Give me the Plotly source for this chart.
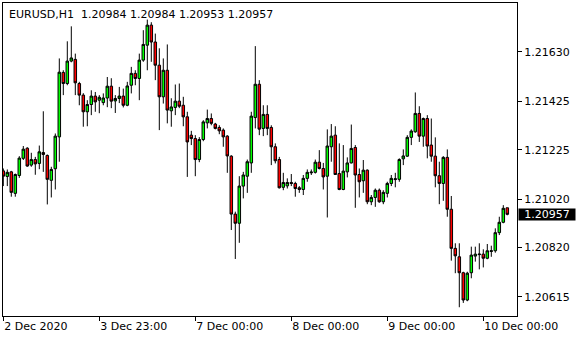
import plotly.graph_objects as go

opens = [1.21137,1.21114,1.21133,1.21044,1.21118,1.21189,1.21231,1.21161,1.21184,1.21168,
         1.21213,1.21201,1.21098,1.21146,1.21278,1.21545,1.21499,1.21592,1.21599,1.21499,
         1.21451,1.21382,1.21412,1.21447,1.21430,1.21420,1.21439,1.21488,1.21427,1.21437,
         1.21447,1.21409,1.21492,1.21541,1.21520,1.21596,1.21658,1.21741,1.21671,1.21575,
         1.21444,1.21554,1.21386,1.21400,1.21426,1.21409,1.21361,1.21285,1.21271,1.21184,
         1.21267,1.21336,1.21354,1.21331,1.21317,1.21306,1.21281,1.21198,1.20958,1.20920,
         1.21074,1.21115,1.21170,1.21358,1.21496,1.21313,1.21371,1.21317,1.21237,1.21184,
         1.21069,1.21075,1.21089,1.21085,1.21067,1.21060,1.21106,1.21129,1.21131,1.21173,
         1.21147,1.21115,1.21237,1.21285,1.21126,1.21060,1.21133,1.21170,1.21234,1.21122,
         1.21096,1.21140,1.21009,1.21027,1.21057,1.21009,1.21044,1.21085,1.21101,1.21102,
         1.21187,1.21198,1.21276,1.21299,1.21375,1.21281,1.21354,1.21244,1.21198,1.21117,
         1.21085,1.21193,1.20978,1.20816,1.20781,1.20715,1.20602,1.20715,1.20784,1.20790,
         1.20792,1.20775,1.20803,1.20806,1.20881,1.20924,1.20984]
highs = [1.21147,1.21143,1.21137,1.21126,1.21198,1.21240,1.21235,1.21212,1.21195,1.21242,
         1.21384,1.21205,1.21154,1.21292,1.21603,1.21554,1.21674,1.21736,1.21623,1.21506,
         1.21459,1.21430,1.21471,1.21464,1.21451,1.21458,1.21526,1.21521,1.21451,1.21485,
         1.21478,1.21506,1.21568,1.21554,1.21623,1.21720,1.21764,1.21753,1.21706,1.21645,
         1.21603,1.21661,1.21438,1.21495,1.21499,1.21444,1.21382,1.21303,1.21285,1.21277,
         1.21347,1.21391,1.21375,1.21336,1.21326,1.21313,1.21285,1.21202,1.20968,1.21115,
         1.21133,1.21184,1.21382,1.21654,1.21513,1.21409,1.21409,1.21326,1.21251,1.21195,
         1.21129,1.21106,1.21124,1.21092,1.21074,1.21120,1.21143,1.21143,1.21184,1.21223,
         1.21170,1.21309,1.21331,1.21322,1.21251,1.21244,1.21193,1.21329,1.21244,1.21147,
         1.21182,1.21143,1.21037,1.21064,1.21064,1.21057,1.21092,1.21120,1.21129,1.21189,
         1.21226,1.21285,1.21309,1.21462,1.21405,1.21358,1.21368,1.21354,1.21276,1.21175,
         1.21198,1.21226,1.21033,1.20837,1.20837,1.20719,1.20719,1.20823,1.20823,1.20837,
         1.20812,1.20834,1.20827,1.20899,1.20947,1.20995,1.20984]
lows = [1.21074,1.21074,1.21030,1.21030,1.21108,1.21182,1.21154,1.21154,1.21121,1.21144,
        1.21133,1.20998,1.21027,1.21060,1.21175,1.21451,1.21492,1.21587,1.21451,1.21409,
        1.21320,1.21322,1.21368,1.21382,1.21376,1.21409,1.21401,1.21397,1.21377,1.21418,
        1.21400,1.21405,1.21458,1.21492,1.21430,1.21589,1.21554,1.21589,1.21513,1.21306,
        1.21416,1.21334,1.21320,1.21368,1.21397,1.21322,1.21112,1.21244,1.21115,1.21173,
        1.21260,1.21313,1.21326,1.21309,1.21289,1.21237,1.21129,1.20892,1.20772,1.20839,
        1.21023,1.21046,1.21129,1.21313,1.21285,1.21281,1.21285,1.21161,1.21168,1.21064,
        1.21057,1.21064,1.21074,1.21030,1.21046,1.21037,1.21092,1.21120,1.21126,1.21143,
        1.21060,1.20944,1.21175,1.21120,1.21057,1.21057,1.21110,1.21168,1.20984,1.21027,
        1.21046,1.20999,1.20995,1.20988,1.21005,1.20999,1.21027,1.21074,1.21069,1.21092,
        1.21161,1.21195,1.21244,1.21295,1.21257,1.21237,1.21189,1.21175,1.21069,1.20999,
        1.21013,1.20947,1.20765,1.20713,1.20572,1.20590,1.20597,1.20692,1.20761,1.20729,
        1.20737,1.20771,1.20781,1.20798,1.20871,1.20920,1.20953]
closes = [1.21115,1.21131,1.21048,1.21122,1.21190,1.21227,1.21157,1.21184,1.21166,1.21216,
          1.21205,1.21102,1.21143,1.21281,1.21546,1.21499,1.21592,1.21605,1.21502,1.21451,
          1.21382,1.21412,1.21447,1.21423,1.21442,1.21439,1.21488,1.21426,1.21437,1.21447,
          1.21409,1.21489,1.21541,1.21520,1.21596,1.21661,1.21741,1.21671,1.21575,1.21444,
          1.21554,1.21389,1.21402,1.21426,1.21405,1.21361,1.21257,1.21271,1.21184,1.21267,
          1.21340,1.21354,1.21334,1.21313,1.21303,1.21278,1.21199,1.20958,1.20920,1.21074,
          1.21120,1.21175,1.21364,1.21496,1.21310,1.21371,1.21313,1.21237,1.21179,1.21067,
          1.21089,1.21089,1.21085,1.21064,1.21060,1.21106,1.21131,1.21132,1.21173,1.21147,
          1.21112,1.21240,1.21281,1.21122,1.21060,1.21136,1.21170,1.21230,1.21120,1.21092,
          1.21140,1.21009,1.21027,1.21057,1.21009,1.21048,1.21085,1.21106,1.21104,1.21184,
          1.21199,1.21276,1.21302,1.21375,1.21281,1.21354,1.21240,1.21198,1.21117,1.21085,
          1.21193,1.20978,1.20816,1.20785,1.20715,1.20602,1.20713,1.20788,1.20792,1.20792,
          1.20775,1.20806,1.20806,1.20881,1.20924,1.20982,1.20957]

tick_index = [0, 24, 48, 72, 96, 120]
tick_labels = ["2 Dec 2020", "3 Dec 23:00", "7 Dec 00:00", "8 Dec 00:00", "9 Dec 00:00", "10 Dec 00:00"]
price_ticks = [1.21630, 1.21425, 1.21225, 1.21020, 1.20820, 1.20615]
price_labels = ["1.21630", "1.21425", "1.21225", "1.21020", "1.20820", "1.20615"]
symbol = "EURUSD,H1"
last_price = 1.20957

bars = list(range(len(opens)))
FONT = "DejaVu Sans"

fig = go.Figure(go.Candlestick(
    x=bars, open=opens, high=highs, low=lows, close=closes,
    increasing=dict(line=dict(color="black", width=1), fillcolor="#00FF00"),
    decreasing=dict(line=dict(color="black", width=1), fillcolor="#FF0000"),
    whiskerwidth=0, hoverinfo="skip",
))

title_txt = "%s  %.5f %.5f %.5f %.5f" % (symbol, opens[-1], highs[-1], lows[-1], closes[-1])

fig.update_layout(
    width=580, height=340,
    margin=dict(l=3, r=63, t=3, b=24),
    paper_bgcolor="white", plot_bgcolor="white",
    showlegend=False, boxgap=0.1,
    font=dict(family=FONT, size=11, color="black"),
    xaxis=dict(range=[-0.075, 128.425], tickvals=tick_index, ticktext=tick_labels,
               ticks="outside", ticklen=4, tickcolor="black", ticklabelposition="outside right",
               showline=True, mirror=True, linecolor="black", linewidth=1,
               showgrid=False, zeroline=False, rangeslider=dict(visible=False),
               tickfont=dict(family=FONT, size=11, color="black")),
    yaxis=dict(range=[1.205357, 1.218327], side="right", tickvals=price_ticks, ticktext=price_labels,
               ticks="outside", ticklen=4, tickcolor="black",
               showline=True, mirror=True, linecolor="black", linewidth=1,
               showgrid=False, zeroline=False,
               tickfont=dict(family=FONT, size=11, color="black")),
    annotations=[
        dict(text=title_txt, xref="paper", yref="paper", x=0, y=1, xanchor="left", yanchor="top",
             xshift=4, yshift=-3, showarrow=False, font=dict(family=FONT, size=11, color="black")),
        dict(text="%.5f" % last_price, xref="paper", yref="y", x=1, y=last_price,
             xanchor="left", yanchor="middle", xshift=1, showarrow=False,
             bgcolor="black", borderpad=0, width=56, height=11, align="center",
             font=dict(family=FONT, size=11, color="white")),
    ],
)

fig.write_html("out.html")
